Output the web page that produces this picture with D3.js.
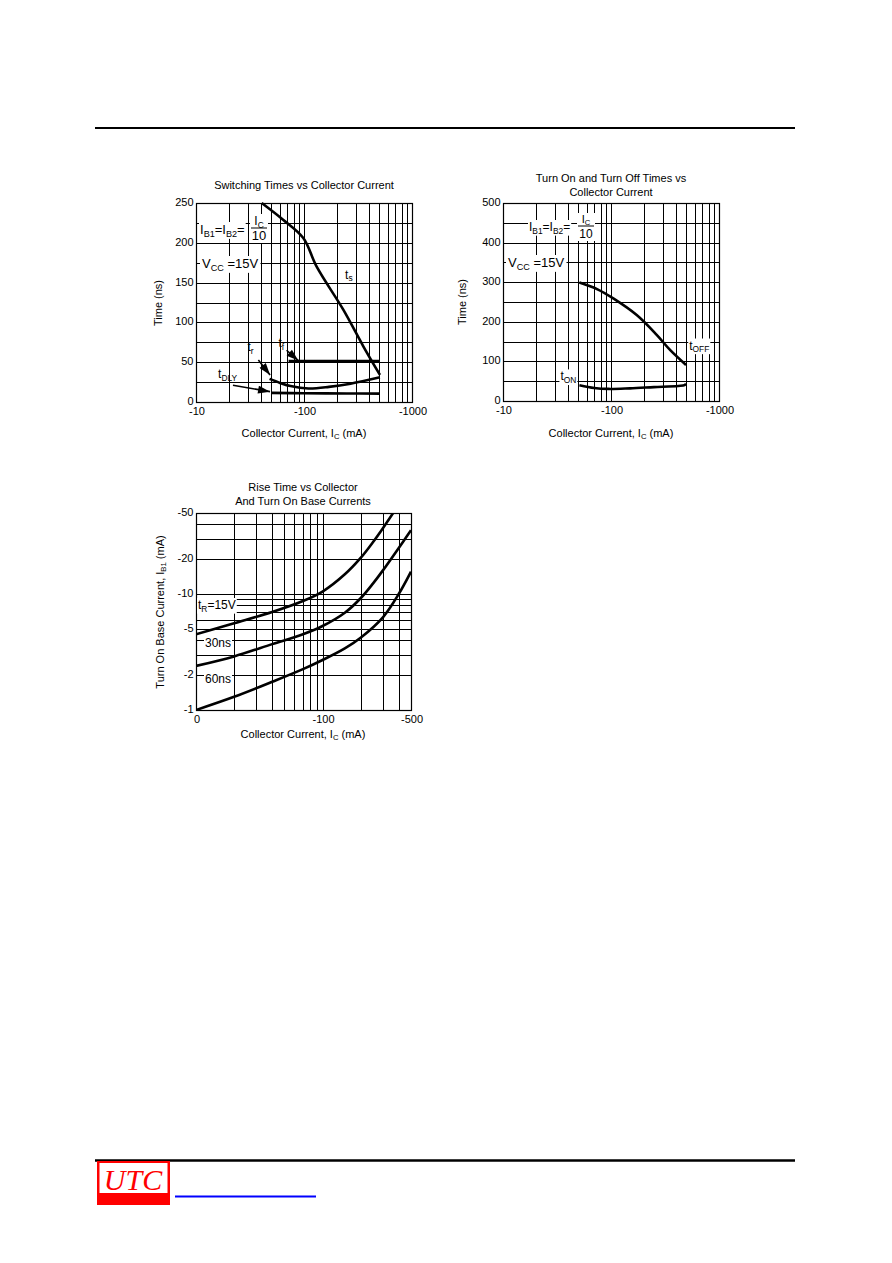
<!DOCTYPE html>
<html><head><meta charset="utf-8">
<script src="https://cdn.jsdelivr.net/npm/d3@7/dist/d3.min.js"></script>
<style>
body{margin:0;background:#fff}
svg{display:block}
text{font-family:"Liberation Sans",Arial,Helvetica,sans-serif;fill:#000}
</style>
</head><body>
<svg id="c" width="892" height="1263"></svg>
<script>
// ---------------- DATA ----------------
// Chart 1: Switching Times vs Collector Current (x: |Ic| mA, y: ns)
const c1XTickVals = [10, 100, 1000];
const c1XTickLabels = ["-10", "-100", "-1000"];
const c1YTickVals = [0, 50, 100, 150, 200, 250];
const c1YTickLabels = ["0", "50", "100", "150", "200", "250"];
const c1YGrid = [0, 25, 50, 75, 100, 125, 150, 175, 200, 225, 250];
const tsData = [[40.6, 250], [64, 229], [98.5, 206], [131, 170], [231, 116], [354, 70], [505, 34]];
const tfData = [[72, 51.5], [200, 51.5], [505, 51.5]];
const trData = [[48, 29], [60, 24], [75, 20], [110, 17], [170, 19], [270, 23], [505, 31]];
const tdlyData = [[50, 11.5], [100, 11], [250, 10.7], [505, 10.5]];

// Chart 2: Turn On and Turn Off Times vs Collector Current
const c2XTickVals = [10, 100, 1000];
const c2XTickLabels = ["-10", "-100", "-1000"];
const c2YTickVals = [0, 100, 200, 300, 400, 500];
const c2YTickLabels = ["0", "100", "200", "300", "400", "500"];
const c2YGrid = [0, 50, 100, 150, 200, 250, 300, 350, 400, 450, 500];
const toffData = [[51, 299], [75, 282], [105, 259], [173, 217], [265, 167], [352, 129], [495, 91]];
const tonData = [[51, 40], [70, 33], [95, 30.5], [150, 32], [250, 35], [420, 38], [480, 40], [495, 44]];

// Chart 3: Rise Time vs Collector and Turn On Base Currents
const c3XTickVals = [10, 100, 500];
const c3XTickLabels = ["0", "-100", "-500"];
const c3YTickVals = [1, 2, 5, 10, 20, 50];
const c3YTickLabels = ["-1", "-2", "-5", "-10", "-20", "-50"];
const tr15Data = [[10, 4.5], [20, 5.6], [40, 7.0], [70, 8.7], [100, 10.5], [150, 14.8], [200, 20.5], [250, 28], [300, 37], [370, 52]];
const tr30Data = [[10, 2.4], [20, 2.9], [40, 3.7], [70, 4.5], [100, 5.3], [150, 6.9], [200, 9.2], [250, 12.3], [300, 16], [440, 29], [500, 35.5]];
const tr60Data = [[10, 1.0], [20, 1.3], [40, 1.75], [70, 2.25], [100, 2.7], [150, 3.4], [200, 4.2], [300, 6.3], [400, 10], [500, 15.6]];

// ---------------- DRAW ----------------
const svg = d3.select("#c");
svg.append("rect").attr("width", 892).attr("height", 1263).attr("fill", "#fff");

const defs = svg.append("defs");
defs.append("marker").attr("id", "arr").attr("viewBox", "0 0 12 8")
  .attr("refX", 12).attr("refY", 4).attr("markerWidth", 13).attr("markerHeight", 8)
  .attr("markerUnits", "userSpaceOnUse").attr("orient", "auto")
  .append("path").attr("d", "M0,0 L12,4 L0,8 Z").attr("fill", "#000");

// header / footer
svg.append("line").attr("x1", 95).attr("x2", 795).attr("y1", 128).attr("y2", 128)
  .attr("stroke", "#000").attr("stroke-width", 2);
svg.append("line").attr("x1", 95).attr("x2", 795).attr("y1", 1160.5).attr("y2", 1160.5)
  .attr("stroke", "#000").attr("stroke-width", 2.5);
svg.append("rect").attr("x", 97).attr("y", 1161).attr("width", 73).attr("height", 44).attr("fill", "#f00");
svg.append("rect").attr("x", 99.5).attr("y", 1163).attr("width", 68).attr("height", 30).attr("fill", "#fff");
svg.append("text").attr("x", 133).attr("y", 1190).attr("text-anchor", "middle")
  .style("font-family", '"Liberation Serif","Times New Roman",serif').style("font-style", "italic")
  .style("font-size", "30px").style("fill", "#f00").text("UTC");
svg.append("line").attr("x1", 175).attr("x2", 316).attr("y1", 1196.5).attr("y2", 1196.5)
  .attr("stroke", "#0000ff").attr("stroke-width", 2);

// rich text helper: parts = [[text, isSub], ...]
function rich(g, x, y, parts, size, anchor) {
  const t = g.append("text").attr("x", x).attr("y", y).style("font-size", size + "px")
    .attr("text-anchor", anchor || "start");
  let sub = false;
  parts.forEach(p => {
    const ts = t.append("tspan").text(p[0]);
    if (p[1] && !sub) { ts.attr("dy", size * 0.22).style("font-size", (size * 0.7) + "px"); sub = true; }
    else if (p[1] && sub) { ts.style("font-size", (size * 0.7) + "px"); }
    else if (!p[1] && sub) { ts.attr("dy", -size * 0.22); sub = false; }
  });
  return t;
}
function whiteBg(g, node, padX, padY) {
  const b = node.getBBox();
  g.insert("rect", () => node).attr("x", b.x - padX).attr("y", b.y - padY)
    .attr("width", b.width + 2 * padX).attr("height", b.height + 2 * padY).attr("fill", "#fff");
}

function frame(g, x, y, xGrid, yGrid) {
  const [x0, x1] = x.range(), [y0, y1] = y.range();
  g.append("g").selectAll("line").data(xGrid).join("line")
    .attr("x1", d => Math.round(x(d)) + 0.5).attr("x2", d => Math.round(x(d)) + 0.5)
    .attr("y1", y1).attr("y2", y0).attr("stroke", "#000").attr("stroke-width", 1);
  g.append("g").selectAll("line").data(yGrid).join("line")
    .attr("y1", d => Math.round(y(d)) + 0.5).attr("y2", d => Math.round(y(d)) + 0.5)
    .attr("x1", x0).attr("x2", x1).attr("stroke", "#000").attr("stroke-width", 1);
  g.append("rect").attr("x", x0 + 0.5).attr("y", y1 + 0.5).attr("width", x1 - x0).attr("height", y0 - y1)
    .attr("fill", "none").attr("stroke", "#000").attr("stroke-width", 1.2);
}
function ticks(g, x, y, xv, xl, yv, yl) {
  const [x0] = x.range(), [y0] = y.range();
  g.append("g").selectAll("text").data(xv).join("text")
    .attr("x", d => x(d) + 1).attr("y", y0 + 12.5).attr("text-anchor", "middle")
    .style("font-size", "11px").text((d, i) => xl[i]);
  g.append("g").selectAll("text").data(yv).join("text")
    .attr("x", x0 - 2.5).attr("y", d => y(d) + 3).attr("text-anchor", "end")
    .style("font-size", "11px").text((d, i) => yl[i]);
}
function curve(g, x, y, data, clip) {
  const p = g.append("path").datum(data)
    .attr("d", d3.line().x(d => x(d[0])).y(d => y(d[1])).curve(d3.curveCatmullRom.alpha(0.5)))
    .attr("fill", "none").attr("stroke", "#000").attr("stroke-width", 2.6);
  if (clip) p.attr("clip-path", clip);
  return p;
}
function arrow(g, x, y, a, b) {
  g.append("line").attr("x1", x(a[0])).attr("y1", y(a[1])).attr("x2", x(b[0])).attr("y2", y(b[1]))
    .attr("stroke", "#000").attr("stroke-width", 1.6).attr("marker-end", "url(#arr)");
}
function ytitle(g, cx, cy, parts) {
  const gg = g.append("g").attr("transform", `translate(${cx},${cy}) rotate(-90)`);
  rich(gg, 0, 0, parts, 11, "middle");
}
function fraction(g, cx, yLine, size) {
  rich(g, cx, yLine - 3, [["I"], ["C", true]], size - 1, "middle");
  g.append("line").attr("x1", cx - 8).attr("x2", cx + 8).attr("y1", yLine).attr("y2", yLine)
    .attr("stroke", "#000").attr("stroke-width", 1);
  g.append("text").attr("x", cx).attr("y", yLine + 12).attr("text-anchor", "middle")
    .style("font-size", size + "px").text("10");
}

// ---- Chart 1 ----
{
  const g = svg.append("g");
  const x = d3.scaleLog().domain([10, 1000]).range([196, 412]);
  const y = d3.scaleLinear().domain([0, 250]).range([402, 203]);
  frame(g, x, y, x.ticks(), c1YGrid);
  ticks(g, x, y, c1XTickVals, c1XTickLabels, c1YTickVals, c1YTickLabels);
  g.append("text").attr("x", 304).attr("y", 189).attr("text-anchor", "middle").style("font-size", "11px")
    .text("Switching Times vs Collector Current");
  rich(g, 304, 437, [["Collector Current, I"], ["C", true], [" (mA)"]], 11, "middle");
  ytitle(g, 162, 303, [["Time (ns)"]]);
  // label block
  const lg = g.append("g");
  const t1 = rich(lg, 200, 234, [["I"], ["B1", true], ["=I"], ["B2", true], ["="]], 13);
  whiteBg(lg, t1.node(), 1, 0);
  const fg = lg.append("g");
  fraction(fg, 259, 228, 13);
  whiteBg(lg, fg.node(), 1, 0);
  const t2 = rich(lg, 202, 268, [["V"], ["CC", true], [" =15V"]], 13);
  whiteBg(lg, t2.node(), 2, 0);

  curve(g, x, y, tsData);
  curve(g, x, y, tfData);
  curve(g, x, y, trData);
  curve(g, x, y, tdlyData);
  arrow(g, x, y, [69, 65], [88.5, 52]);
  arrow(g, x, y, [37.8, 52.8], [48.5, 34]);
  arrow(g, x, y, [22, 21], [48.5, 13]);
  rich(g, x(240), y(155), [["t"], ["s", true]], 12);
  rich(g, x(58), y(69), [["t"], ["f", true]], 12);
  rich(g, x(30), y(64), [["t"], ["r", true]], 12);
  rich(g, x(16), y(30), [["t"], ["DLY", true]], 12);
}

// ---- Chart 2 ----
{
  const g = svg.append("g");
  const x = d3.scaleLog().domain([10, 1000]).range([503, 719]);
  const y = d3.scaleLinear().domain([0, 500]).range([401, 203]);
  frame(g, x, y, x.ticks(), c2YGrid);
  ticks(g, x, y, c2XTickVals, c2XTickLabels, c2YTickVals, c2YTickLabels);
  g.append("text").attr("x", 611).attr("y", 182).attr("text-anchor", "middle").style("font-size", "11px")
    .text("Turn On and Turn Off Times vs");
  g.append("text").attr("x", 611).attr("y", 196).attr("text-anchor", "middle").style("font-size", "11px")
    .text("Collector Current");
  rich(g, 611, 437, [["Collector Current, I"], ["C", true], [" (mA)"]], 11, "middle");
  ytitle(g, 466, 302, [["Time (ns)"]]);
  const lg = g.append("g");
  const t1 = rich(lg, 529, 231, [["I"], ["B1", true], ["=I"], ["B2", true], ["="]], 12);
  whiteBg(lg, t1.node(), 1, 0);
  const fg = lg.append("g");
  fraction(fg, 586, 226, 12);
  whiteBg(lg, fg.node(), 1, 0);
  const t2 = rich(lg, 508, 267, [["V"], ["CC", true], [" =15V"]], 13);
  whiteBg(lg, t2.node(), 2, 0);

  curve(g, x, y, toffData);
  curve(g, x, y, tonData);
  const a = rich(g, x(530), y(130), [["t"], ["OFF", true]], 12);
  whiteBg(g, a.node(), 1, 0);
  const b = rich(g, x(34), y(52), [["t"], ["ON", true]], 12);
  whiteBg(g, b.node(), 1, 0);
}

// ---- Chart 3 ----
{
  const g = svg.append("g");
  const x = d3.scaleLog().domain([10, 500]).range([196, 411]);
  const y = d3.scaleLog().domain([1, 50]).range([710, 513]);
  defs.append("clipPath").attr("id", "clip3").append("rect")
    .attr("x", 196).attr("y", 513).attr("width", 215).attr("height", 197);
  frame(g, x, y, x.ticks(), y.ticks());
  ticks(g, x, y, c3XTickVals, c3XTickLabels, c3YTickVals, c3YTickLabels);
  g.append("text").attr("x", 303).attr("y", 491).attr("text-anchor", "middle").style("font-size", "11px")
    .text("Rise Time vs Collector");
  g.append("text").attr("x", 303).attr("y", 505).attr("text-anchor", "middle").style("font-size", "11px")
    .text("And Turn On Base Currents");
  rich(g, 303, 738, [["Collector Current, I"], ["C", true], [" (mA)"]], 11, "middle");
  ytitle(g, 164, 612, [["Turn On Base Current, I"], ["B1", true], [" (mA)"]]);

  const l1 = rich(g, 198, 609, [["t"], ["R", true], ["=15V"]], 12);
  whiteBg(g, l1.node(), 1, 0);
  const l2 = g.append("text").attr("x", 205).attr("y", 647).style("font-size", "12px").text("30ns");
  whiteBg(g, l2.node(), 1, 0);
  const l3 = g.append("text").attr("x", 205).attr("y", 683).style("font-size", "12px").text("60ns");
  whiteBg(g, l3.node(), 1, 0);

  curve(g, x, y, tr15Data, "url(#clip3)");
  curve(g, x, y, tr30Data, "url(#clip3)");
  curve(g, x, y, tr60Data, "url(#clip3)");
}
</script>
</body></html>
